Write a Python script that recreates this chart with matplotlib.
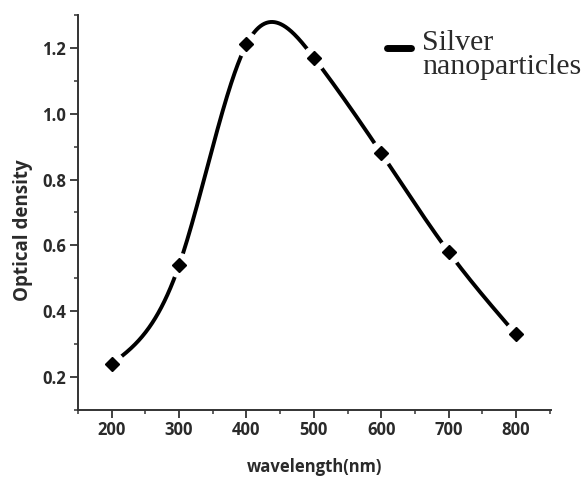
import numpy as np
import matplotlib
matplotlib.use("Agg")
import matplotlib.pyplot as plt
from matplotlib.ticker import MultipleLocator
from matplotlib.lines import Line2D

wavelength = [200, 300, 400, 500, 600, 700, 800]
optical_density = [0.24, 0.54, 1.21, 1.17, 0.88, 0.58, 0.33]
x_ticks = [200, 300, 400, 500, 600, 700, 800]
y_ticks = [0.2, 0.4, 0.6, 0.8, 1.0, 1.2]
series_label = "Silver\nnanoparticles"
x_label = "wavelength(nm)"
y_label = "Optical density"


def natural_spline(x, y, xs):
    x = np.asarray(x, float); y = np.asarray(y, float)
    n = len(x)
    h = np.diff(x)
    A = np.zeros((n, n)); b = np.zeros(n)
    A[0, 0] = 1; A[-1, -1] = 1
    for i in range(1, n - 1):
        A[i, i - 1] = h[i - 1]
        A[i, i] = 2 * (h[i - 1] + h[i])
        A[i, i + 1] = h[i]
        b[i] = 3 * ((y[i + 1] - y[i]) / h[i] - (y[i] - y[i - 1]) / h[i - 1])
    c = np.linalg.solve(A, b)
    out = np.empty(len(xs))
    for k, xv in enumerate(xs):
        i = min(max(np.searchsorted(x, xv) - 1, 0), n - 2)
        dx = xv - x[i]
        bi = (y[i + 1] - y[i]) / h[i] - h[i] * (2 * c[i] + c[i + 1]) / 3
        di = (c[i + 1] - c[i]) / (3 * h[i])
        out[k] = y[i] + bi * dx + c[i] * dx ** 2 + di * dx ** 3
    return out


TXT = "#2a2a2a"
fig = plt.figure(figsize=(5.84, 4.79), dpi=100)
ax = fig.add_axes([0.1336, 0.144, 0.81, 0.825])

xs = np.linspace(wavelength[0], wavelength[-1], 800)
ys = natural_spline(wavelength, optical_density, xs)
ax.plot(xs, ys, color="black", lw=2.8, solid_capstyle="butt", zorder=2)
# white halo for the line gaps around the symbols
ax.plot(wavelength, optical_density, linestyle="none", marker="o",
        markersize=17, color="white", zorder=3)
ax.plot(wavelength, optical_density, linestyle="none", marker="D",
        markersize=7.5, color="black", zorder=4)

ax.set_xlim(150, 852)
ax.set_ylim(0.1, 1.3)
ax.set_xticks(x_ticks)
ax.set_yticks(y_ticks)
ax.set_yticklabels([f"{v:.1f}" for v in y_ticks])
ax.xaxis.set_minor_locator(MultipleLocator(50))
ax.yaxis.set_minor_locator(MultipleLocator(0.1))

for s in ["top", "right"]:
    ax.spines[s].set_visible(False)
for s in ["left", "bottom"]:
    ax.spines[s].set_linewidth(1.4)
    ax.spines[s].set_color("#333333")

ax.tick_params(which="major", direction="out", length=6, width=1.3,
               color="#333333", labelcolor=TXT)
ax.tick_params(axis="y", which="major", pad=2.5)
ax.tick_params(axis="x", which="major", pad=2)
ax.tick_params(which="minor", direction="out", length=3, width=1.1,
               color="#333333")
for lab in ax.get_xticklabels() + ax.get_yticklabels():
    lab.set_fontfamily("Open Sans")
    lab.set_fontweight("bold")
    lab.set_fontsize(12)

ax.set_xlabel(x_label, fontfamily="Open Sans", fontweight="bold",
              fontsize=12, color=TXT)
ax.set_ylabel(y_label, fontfamily="Open Sans", fontweight="bold",
              fontsize=13.5, color=TXT)
ax.xaxis.set_label_coords(0.5, -0.122)
ax.yaxis.set_label_coords(-0.095, 0.455)

handle = Line2D([], [], color="black", lw=5, solid_capstyle="round")
leg = fig.legend([handle], [series_label], loc="upper left",
                 bbox_to_anchor=(387 / 584, 1 - 30 / 479), frameon=False,
                 prop=dict(family="Liberation Serif", size=21.5),
                 handlelength=0.8, handleheight=2.1, handletextpad=0.38,
                 labelspacing=0.1, borderpad=0.0, borderaxespad=0.0)
for t in leg.get_texts():
    t.set_color(TXT)
    t.set_linespacing(0.88)

fig.savefig("out.png", dpi=100)
